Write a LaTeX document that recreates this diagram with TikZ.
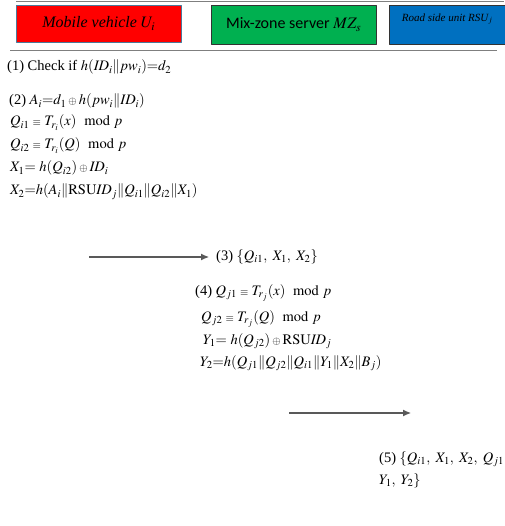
\documentclass[tikz,border=0pt]{standalone}
\usepackage{mathptmx}
\usepackage[no-math]{fontspec}
\setmainfont{Liberation Serif}
\newfontfamily\calfont{Carlito}
\usetikzlibrary{arrows.meta}
\definecolor{vehred}{HTML}{FF0000}
\definecolor{mzgreen}{HTML}{00B050}
\definecolor{rsublue}{HTML}{0070C0}
\definecolor{rulegray}{HTML}{7F7F7F}
\newcommand{\cat}{\mathord{\|}}
\newcommand{\xo}{\mathbin{\scriptstyle\oplus}}
\newcommand{\eqv}{\mathrel{\scriptstyle\equiv}}
\begin{document}
\begin{tikzpicture}[x=1pt, y=-1pt, font=\fontsize{14.5}{16}\selectfont, >=latex, line join=round,
  hdr/.style={draw, anchor=north west, inner sep=0},
  step line/.style={anchor=base west, inner sep=0},
  msg/.style={draw=rulegray!70!black, line width=1.1pt, -{Latex[length=8pt,width=7pt]}}]
\useasboundingbox (0,0) rectangle (504,526);
% entities
\node[hdr, fill=vehred, draw=rsublue!40!gray, minimum width=165pt, minimum height=37pt,
  font=\fontsize{16}{18}\selectfont\itshape] (veh) at (16,5) {Mobile vehicle $U_i$};
\node[hdr, fill=mzgreen, draw=black!80, minimum width=165pt, minimum height=39pt,
  font=\fontsize{16}{18}\selectfont\calfont] (mzs) at (211,5) {Mix-zone server $MZ_s$};
\node[hdr, fill=rsublue, draw=black!80, minimum width=116pt, minimum height=39pt] (rsu) at (389,5) {};
\node[font=\fontsize{11}{13}\selectfont\itshape, anchor=north] (rsut) at ([yshift=-5pt]rsu.north) {Road side unit RSU$_j$};
\draw[rulegray, line width=1.5pt] (16,1.5) -- (504,1.5);
\draw[rulegray, line width=1.5pt] (10,50.5) -- (497,50.5);
% vehicle side
\node[step line] (s1) at (7,71) {(1) Check if $h(\mathit{ID}_i\cat pw_i)\mathrm{=}d_2$};
\node[step line] (s2) at (9,105) {(2) $A_i\mathrm{=}d_1 \xo h(pw_i\cat \mathit{ID}_i)$};
\node[step line] (s2b) at (10,126) {$Q_{i1}\eqv T_{r_i}(x)\ \bmod p$};
\node[step line] (s2c) at (10,149) {$Q_{i2}\eqv T_{r_i}(Q)\ \bmod p$};
\node[step line] (s2d) at (10,172) {$X_1\mathrm{=}\ h(Q_{i2})\xo \mathit{ID}_i$};
\node[step line] (s2e) at (10,195) {$X_2\mathrm{=}h(A_i\cat \mathrm{RSU}\mathit{ID}_j\cat Q_{i1}\cat Q_{i2}\cat X_1)$};
% first message
\coordinate (m3s) at (89,257);
\node[anchor=west, inner sep=0] (m3) at (216,257) {(3) $\{Q_{i1},\ X_1,\ X_2\}$};
\draw[msg] (m3s) -- ([xshift=-7pt]m3.west);
% server side
\node[step line] (s4) at (195,295) {(4) $Q_{j1}\eqv T_{r_j}(x)\ \bmod p$};
\node[step line] (s4b) at (201,321) {$Q_{j2}\eqv T_{r_j}(Q)\ \bmod p$};
\node[step line] (s4c) at (203,344) {$Y_1\mathrm{=}\ h(Q_{j2})\xo \mathrm{RSU}\mathit{ID}_j$};
\node[step line] (s4d) at (200,366) {$Y_2\mathrm{=}h(Q_{j1}\cat Q_{j2}\cat Q_{i1}\cat Y_1\cat X_2\cat B_j)$};
% second message
\coordinate (m5s) at (289,413);
\coordinate (m5e) at (411,413);
\draw[msg] (m5s) -- (m5e);
\node[step line] (m5) at (379,462) {(5) $\{Q_{i1},\ X_1,\ X_2,\ Q_{j1},$};
\node[step line] (m5b) at (379,484) {$Y_1,\ Y_2\}$};
\end{tikzpicture}
\end{document}
